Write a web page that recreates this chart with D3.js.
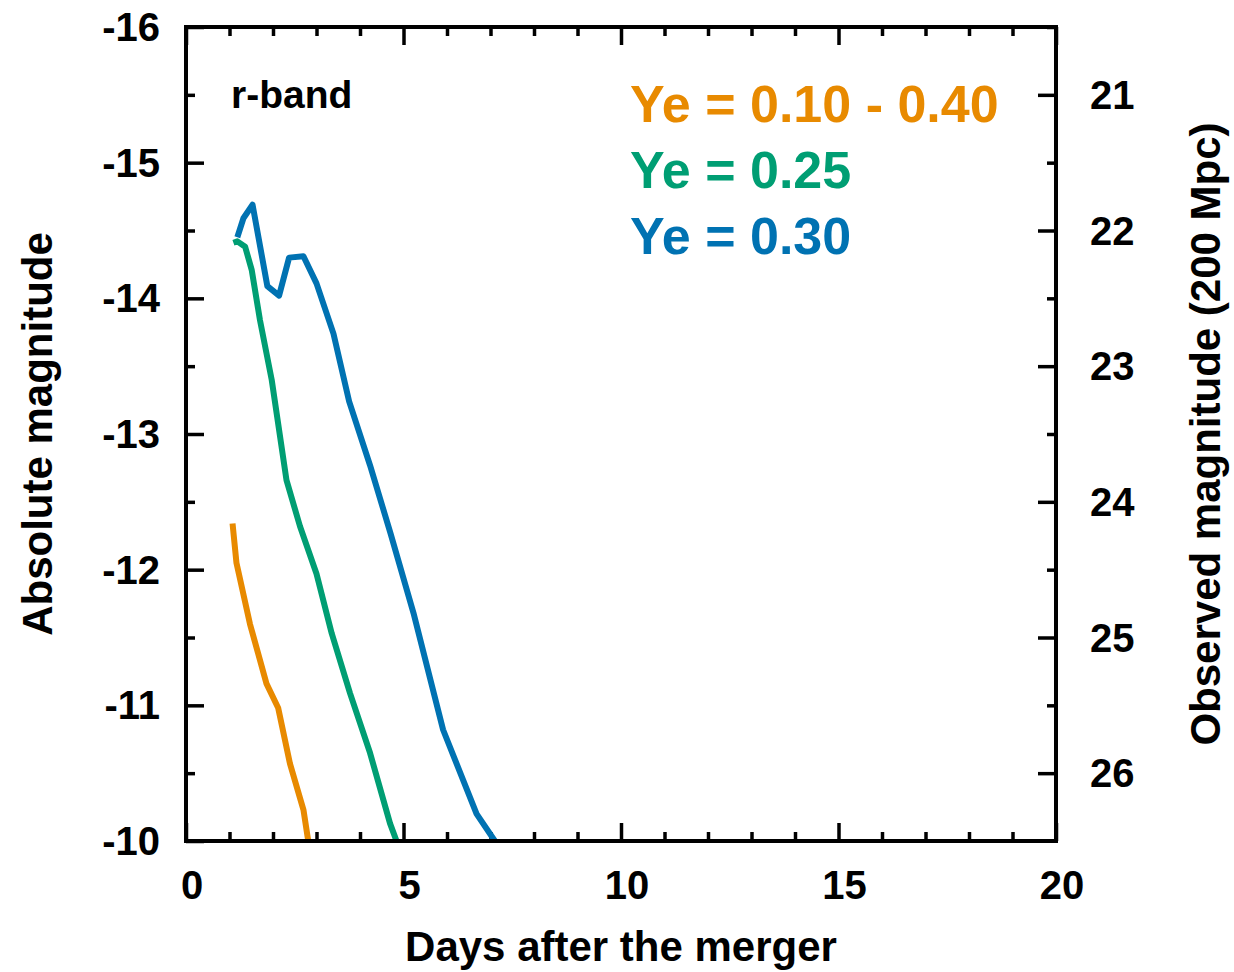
<!DOCTYPE html>
<html>
<head>
<meta charset="utf-8">
<script src="https://cdn.jsdelivr.net/npm/d3@7"></script>
<style>
  body { margin: 0; background: #fff; }
  text { font-family: "Liberation Sans", Arial, sans-serif; font-weight: bold; }
</style>
</head>
<body>
<svg id="chart" width="1234" height="972"></svg>
<script>
// r-band light curves
var days = {
  orange: [1.07, 1.16, 1.47, 1.85, 2.12, 2.39, 2.70, 2.81],
  green:  [1.09, 1.18, 1.36, 1.51, 1.70, 1.97, 2.31, 2.62, 3.00, 3.35, 3.77, 4.23, 4.69, 4.84],
  blue:   [1.18, 1.32, 1.53, 1.87, 2.14, 2.37, 2.70, 3.00, 3.39, 3.75, 4.23, 4.70, 5.23, 5.91, 6.68, 7.10]
};
var mags = {
  orange: [-12.34, -12.05, -11.60, -11.16, -10.98, -10.57, -10.23, -10.0],
  green:  [-14.41, -14.42, -14.38, -14.21, -13.84, -13.40, -12.66, -12.32, -11.97, -11.53, -11.09, -10.65, -10.13, -10.0],
  blue:   [-14.45, -14.59, -14.69, -14.09, -14.02, -14.30, -14.31, -14.11, -13.74, -13.24, -12.77, -12.27, -11.68, -10.82, -10.20, -10.0]
};
var seriesNames = ["orange", "green", "blue"];
var colors = { orange: "#e88a00", green: "#009e73", blue: "#0072b2" };
var legendLabels = ["Ye = 0.10 - 0.40", "Ye = 0.25", "Ye = 0.30"];

var xTicks = [0, 5, 10, 15, 20];
var yTicks = [-16, -15, -14, -13, -12, -11, -10];
var obsTicks = [21, 22, 23, 24, 25, 26];
var distModulus = 36.5; // 200 Mpc

var plotL = 186, plotR = 1056, plotT = 27, plotB = 841;
var svg = d3.select("#chart");

var x = d3.scaleLinear().domain([0, 20]).range([plotL, plotR]);
var y = d3.scaleLinear().domain([-16, -10]).range([plotT, plotB]);
var yObs = d3.scaleLinear().domain([-16 + distModulus, -10 + distModulus]).range([plotT, plotB]);

// ticks, drawn inward
function tickAxis(axis, scale, values, len, transform) {
  svg.append("g")
    .attr("transform", transform)
    .call(axis(scale).tickValues(values).tickSize(len).tickFormat(""))
    .call(function (g) {
      g.select(".domain").remove();
      g.selectAll("line").attr("stroke", "#000").attr("stroke-width", 3.5);
    });
}
var xMinor = d3.range(0, 21, 1).filter(function (d) { return d % 5 !== 0; });
var yMinor = [-15.5, -14.5, -13.5, -12.5, -11.5, -10.5];
var obsMinor = [20.5, 21.5, 22.5, 23.5, 24.5, 25.5];

tickAxis(d3.axisTop, x, xTicks, 18, "translate(0," + plotB + ")");
tickAxis(d3.axisTop, x, xMinor, 9, "translate(0," + plotB + ")");
tickAxis(d3.axisBottom, x, xTicks, 18, "translate(0," + plotT + ")");
tickAxis(d3.axisBottom, x, xMinor, 9, "translate(0," + plotT + ")");
tickAxis(d3.axisRight, y, yTicks, 18, "translate(" + plotL + ",0)");
tickAxis(d3.axisRight, y, yMinor, 9, "translate(" + plotL + ",0)");
tickAxis(d3.axisLeft, yObs, obsTicks, 18, "translate(" + plotR + ",0)");
tickAxis(d3.axisLeft, yObs, obsMinor, 9, "translate(" + plotR + ",0)");

// curves
svg.append("defs").append("clipPath").attr("id", "clip")
  .append("rect").attr("x", plotL).attr("y", plotT).attr("width", plotR - plotL).attr("height", plotB - plotT);

var line = d3.line().x(function (d) { return x(d[0]); }).y(function (d) { return y(d[1]); });
seriesNames.forEach(function (name) {
  var pts = d3.zip(days[name], mags[name]);
  svg.append("path")
    .attr("d", line(pts))
    .attr("clip-path", "url(#clip)")
    .attr("fill", "none")
    .attr("stroke", colors[name])
    .attr("stroke-width", 6)
    .attr("stroke-linejoin", "round");
});

// frame
svg.append("rect")
  .attr("x", plotL).attr("y", plotT).attr("width", plotR - plotL).attr("height", plotB - plotT)
  .attr("fill", "none").attr("stroke", "#000").attr("stroke-width", 4);

// tick labels
svg.selectAll(".xl").data(xTicks).enter().append("text")
  .attr("x", function (d) { return x(d) + 6; }).attr("y", 899)
  .attr("text-anchor", "middle").attr("font-size", 40).text(function (d) { return d; });
svg.selectAll(".yl").data(yTicks).enter().append("text")
  .attr("x", 160).attr("y", function (d) { return y(d) + 14; })
  .attr("text-anchor", "end").attr("font-size", 40).text(function (d) { return d; });
svg.selectAll(".ol").data(obsTicks).enter().append("text")
  .attr("x", 1090).attr("y", function (d) { return yObs(d) + 14; })
  .attr("text-anchor", "start").attr("font-size", 40).text(function (d) { return d; });

// axis titles
svg.append("text").attr("x", 621).attr("y", 961).attr("text-anchor", "middle")
  .attr("font-size", 42).text("Days after the merger");
svg.append("text").attr("transform", "translate(52,434) rotate(-90)").attr("text-anchor", "middle")
  .attr("font-size", 42).text("Absolute magnitude");
svg.append("text").attr("transform", "translate(1220,434) rotate(-90)").attr("text-anchor", "middle")
  .attr("font-size", 42).text("Observed magnitude (200 Mpc)");

// labels in the plot
svg.append("text").attr("x", 231).attr("y", 108).attr("font-size", 39).text("r-band");
svg.selectAll(".leg").data(seriesNames).enter().append("text")
  .attr("x", 630).attr("y", function (d, i) { return 122 + i * 66; })
  .attr("font-size", 52).attr("fill", function (d) { return colors[d]; })
  .text(function (d, i) { return legendLabels[i]; });
</script>
</body>
</html>
